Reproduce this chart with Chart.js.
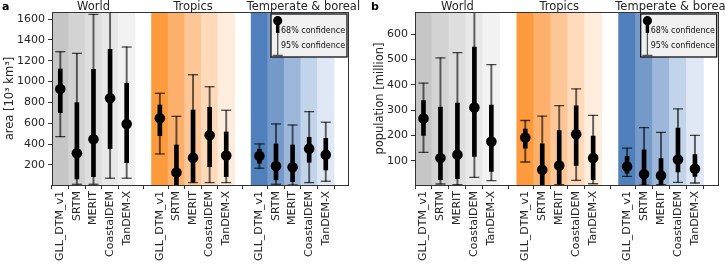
<!DOCTYPE html>
<html>
<head>
<meta charset="utf-8">
<script src="https://cdn.jsdelivr.net/npm/chart.js@4.4.1/dist/chart.umd.min.js"></script>
<style>
  body { margin: 0; background: #fff; }
  #wrapA { position: absolute; left: 0; top: 0; }
  #wrapB { position: absolute; left: 362px; top: 0; }
</style>
</head>
<body>
<div id="wrapA"><canvas id="chartA" width="362" height="265"></canvas></div>
<div id="wrapB"><canvas id="chartB" width="363" height="265"></canvas></div>
<script>
const demNames = ['GLL_DTM_v1', 'SRTM', 'MERIT', 'CoastalDEM', 'TanDEM-X'];
const groupNames = ['World', 'Tropics', 'Temperate & boreal'];
const groupCenters = [2, 8, 14.65];
const xPositions = [0, 1, 2, 3, 4, 6, 7, 8, 9, 10, 12, 13, 14, 15, 16];

// panel a: area [10^3 km^3]
const areaTicks = [200, 400, 600, 800, 1000, 1200, 1400, 1600];
const areaMid  = [929, 313, 447, 840, 594,   648, 127, 270, 485, 290,   287, 191, 178, 357, 299];
const areaLo68 = [702, 66, 88, 357, 222,     481, 5, 35, 184, 88,       217, 57, 40, 226, 152];
const areaHi68 = [1121, 798, 1118, 1310, 984, 776, 392, 728, 754, 517,  351, 402, 392, 466, 456];
const areaLo95 = [472, 15, 15, 73, 73,       306, -20, 31, 31, 31,      169, 15, 9, 31, 44];
const areaHi95 = [1287, 1271, 1645, 1750, 1332, 888, 667, 1066, 951, 725, 402, 594, 584, 712, 610];

// panel b: population [million]
const popTicks = [100, 200, 300, 400, 500, 600];
const popMid  = [267, 111, 124, 310, 176,   192, 64, 81, 205, 111,   77, 47, 42, 105, 68];
const popLo68 = [200, 25, 29, 117, 58,      150, 5, 8, 81, 25,       51, 5, 5, 56, 38];
const popHi68 = [338, 312, 328, 549, 320,   225, 167, 219, 317, 197, 117, 143, 108, 229, 124];
const popLo95 = [133, 8, 5, 34, 21,         95, -10, 5, 22, 9,       38, 3, 5, 14, 12];
const popHi95 = [407, 507, 527, 720, 480,   259, 276, 318, 384, 279, 150, 231, 212, 305, 200];

const bandColors = [
  '#c6c6c6', '#d3d3d3', '#dedede', '#e8e8e8', '#f2f2f2',
  '#fd9a3b', '#fdb06c', '#fdc696', '#fedabb', '#feecdc',
  '#4f80bb', '#7599c9', '#9cb7da', '#c2d4ea', '#dfe8f4'
];

Chart.defaults.font.family = "'DejaVu Sans', sans-serif";
Chart.defaults.color = '#262626';

function buildChart(id, cfg) {
  const ctx = document.getElementById(id).getContext('2d');
  const ranges = (lo, hi) => xPositions.map((x, i) => ({ x: x, y: [lo[i], hi[i]] }));
  const caps = [];
  xPositions.forEach((x, i) => {
    caps.push({ x: x, y: cfg.lo95[i] });
    caps.push({ x: x, y: cfg.hi95[i] });
  });

  const decor = {
    id: 'decor',
    afterDatasetsDraw(chart) {
      const a = chart.chartArea;
      const c = chart.ctx;
      c.save();
      c.strokeStyle = '#333';
      c.lineWidth = 1;
      c.strokeRect(Math.round(a.left) + 0.5, Math.round(a.top) + 0.5,
        Math.round(a.right - a.left) - 1, Math.round(a.bottom - a.top));
      c.restore();
    },
    afterDraw(chart) {
      const a = chart.chartArea;
      const c = chart.ctx;
      const xs = chart.scales.x;
      c.save();
      // panel letter
      c.fillStyle = '#000';
      c.font = "bold 11px 'DejaVu Sans'";
      c.textAlign = 'left';
      c.textBaseline = 'alphabetic';
      c.fillText(cfg.letter, cfg.letterX, 10);
      // group titles
      c.fillStyle = '#262626';
      c.font = "11.5px 'DejaVu Sans'";
      c.textAlign = 'center';
      groupNames.forEach((g, i) => c.fillText(g, xs.getPixelForValue(groupCenters[i]), 10));
      // legend box
      const w = 76, h = 43;
      const bx = a.right - 2 - w, by = a.top + 2;
      c.fillStyle = '#f0f0f0';
      c.fillRect(bx, by, w, h);
      c.strokeStyle = '#111';
      c.lineWidth = 1.3;
      c.strokeRect(bx, by, w, h);
      const mx = bx + 6.7;
      c.strokeStyle = 'rgba(0,0,0,0.65)';
      c.lineWidth = 1.3;
      c.beginPath();
      c.moveTo(mx, by + 7); c.lineTo(mx, by + 41.5);
      c.moveTo(mx - 5, by + 41.5); c.lineTo(mx + 5, by + 41.5);
      c.stroke();
      c.strokeStyle = '#000';
      c.lineWidth = 3.5;
      c.beginPath();
      c.moveTo(mx, by + 7); c.lineTo(mx, by + 19);
      c.stroke();
      c.fillStyle = '#000';
      c.beginPath();
      c.arc(mx, by + 6.7, 4.6, 0, Math.PI * 2);
      c.fill();
      c.font = "8px 'DejaVu Sans'";
      c.textAlign = 'left';
      c.textBaseline = 'middle';
      c.fillStyle = '#111';
      c.fillText('68% confidence', bx + 10, by + 17.3);
      c.fillText('95% confidence', bx + 10, by + 31.7);
      c.restore();
    }
  };

  return new Chart(ctx, {
    type: 'bar',
    data: {
      datasets: [
        {
          type: 'bar',
          data: ranges(xPositions.map(() => cfg.yMin - 100), xPositions.map(() => cfg.yMax * 2)),
          backgroundColor: bandColors,
          barPercentage: 1,
          categoryPercentage: 1,
          borderWidth: 0,
          order: 10
        },
        {
          type: 'bar',
          data: ranges(cfg.lo95, cfg.hi95),
          backgroundColor: 'rgba(0,0,0,0.6)',
          barThickness: 1.3,
          order: 6
        },
        {
          type: 'scatter',
          data: caps,
          pointStyle: 'line',
          pointRadius: 5,
          borderWidth: 1.3,
          borderColor: 'rgba(0,0,0,0.7)',
          order: 5
        },
        {
          type: 'bar',
          data: ranges(cfg.lo68, cfg.hi68),
          backgroundColor: '#000',
          barThickness: 4,
          order: 3
        },
        {
          type: 'scatter',
          data: xPositions.map((x, i) => ({ x: x, y: cfg.mid[i] })),
          pointRadius: 5.3,
          backgroundColor: '#000',
          borderWidth: 0,
          order: 1
        }
      ]
    },
    options: {
      responsive: false,
      animation: false,
      events: [],
      layout: { padding: { top: 12, right: cfg.rightPad, left: 0, bottom: 0 } },
      datasets: { bar: { grouped: false } },
      plugins: { legend: { display: false }, tooltip: { enabled: false } },
      scales: {
        x: {
          type: 'linear',
          offset: false,
          min: -0.5,
          max: 17.4,
          afterBuildTicks: (s) => { s.ticks = xPositions.map(v => ({ value: v })); },
          afterFit: (s) => { s.height = 80; },
          ticks: {
            autoSkip: false,
            minRotation: 90,
            maxRotation: 90,
            padding: 2,
            font: { size: 11 },
            callback: (v, i) => demNames[i % 5]
          },
          grid: { drawOnChartArea: false, drawTicks: true, tickLength: 4, color: '#333' },
          border: { display: false }
        },
        y: {
          type: 'linear',
          min: cfg.yMin,
          max: cfg.yMax,
          afterBuildTicks: (s) => { s.ticks = cfg.ticks.map(v => ({ value: v })); },
          afterFit: (s) => { s.width = cfg.yWidth; },
          ticks: { padding: 3, font: { size: 11 }, callback: (v) => String(v) },
          grid: { drawOnChartArea: false, drawTicks: true, tickLength: 4, color: '#333' },
          border: { display: false },
          title: {
            display: true,
            text: cfg.yTitle,
            font: { size: 11.5 },
            color: '#262626',
            padding: { top: cfg.titlePad, bottom: 0 }
          }
        }
      }
    },
    plugins: [decor]
  });
}

buildChart('chartA', {
  letter: 'a', letterX: 2,
  mid: areaMid, lo68: areaLo68, hi68: areaHi68, lo95: areaLo95, hi95: areaHi95,
  ticks: areaTicks, yMin: 8, yMax: 1668,
  yTitle: 'area [10³ km³]', yWidth: 52, rightPad: 13, titlePad: 3
});

buildChart('chartB', {
  letter: 'b', letterX: 9,
  mid: popMid, lo68: popLo68, hi68: popHi68, lo95: popLo95, hi95: popHi95,
  ticks: popTicks, yMin: 4, yMax: 688,
  yTitle: 'population [million]', yWidth: 53, rightPad: 3, titlePad: 11
});
</script>
</body>
</html>
